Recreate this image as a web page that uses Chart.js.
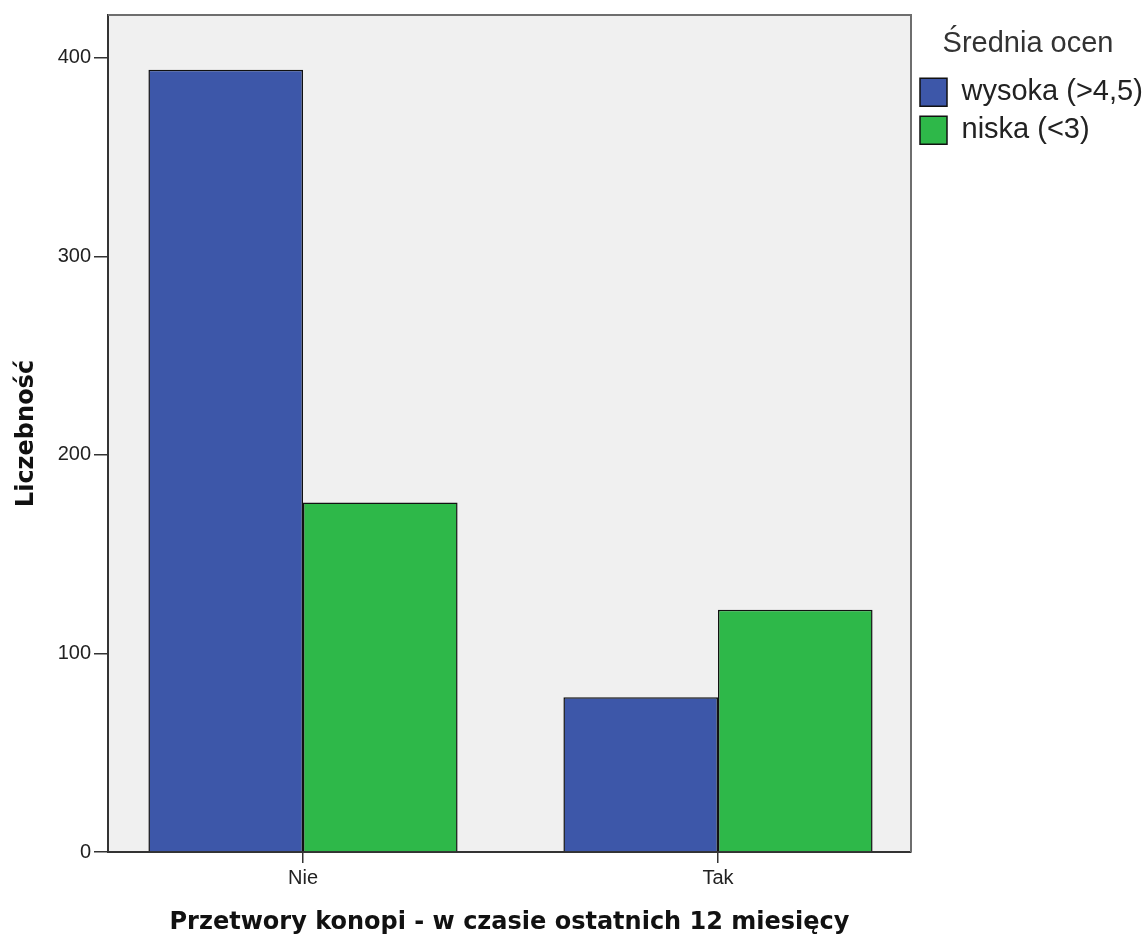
<!DOCTYPE html>
<html lang="pl">
<head>
<meta charset="UTF-8">
<title>Przetwory konopi - w czasie ostatnich 12 miesięcy</title>
<script src="https://cdn.jsdelivr.net/npm/chart.js"></script>
<style>
  html, body { margin: 0; padding: 0; background: #fff; }
  canvas { display: block; }
</style>
</head>
<body>
<canvas id="chart" width="1145" height="937"></canvas>
<script>
// dane
const categories = ['Nie', 'Tak'];
const seriesNames = ['wysoka (>4,5)', 'niska (<3)'];
const highValues = [394, 78];   // wysoka (>4,5)
const lowValues = [176, 122];   // niska (<3)
const yTicks = [0, 100, 200, 300, 400];

const blue = '#3d57a9';
const green = '#2eb849';

// tło i ramka obszaru wykresu
const plotFrame = {
  id: 'plotFrame',
  beforeDraw(chart) {
    const { ctx, chartArea: a } = chart;
    ctx.save();
    ctx.fillStyle = '#f0f0f0';
    ctx.fillRect(a.left, a.top, a.right - a.left, a.bottom - a.top);
    ctx.restore();
  },
  beforeDatasetsDraw(chart) {
    const { ctx, chartArea: a } = chart;
    ctx.save();
    ctx.strokeStyle = '#6e6e6e';
    ctx.lineWidth = 2;
    ctx.beginPath();
    ctx.moveTo(a.left, a.top);
    ctx.lineTo(a.right, a.top);
    ctx.lineTo(a.right, a.bottom);
    ctx.stroke();
    ctx.restore();
  }
};

const tickFont = { family: 'Liberation Sans, Arial, sans-serif', size: 20 };
const titleFont = { family: 'DejaVu Sans, sans-serif', size: 24, weight: 'bold' };

new Chart(document.getElementById('chart'), {
  type: 'bar',
  data: {
    datasets: [
      {
        label: seriesNames[0],
        data: highValues.map((v, i) => ({ x: i, y: v })),
        backgroundColor: blue,
        borderColor: '#111',
        borderWidth: 1.5
      },
      {
        label: seriesNames[1],
        data: lowValues.map((v, i) => ({ x: i, y: v })),
        backgroundColor: green,
        borderColor: '#111',
        borderWidth: 1.5
      }
    ]
  },
  options: {
    responsive: false,
    devicePixelRatio: 1,
    animation: false,
    layout: { padding: { top: 14, right: 0, bottom: 0, left: 0 } },
    datasets: {
      bar: { categoryPercentage: 0.745, barPercentage: 1 }
    },
    scales: {
      x: {
        type: 'linear',
        offset: false,
        min: -0.4699,
        max: 1.4651,
        afterBuildTicks(scale) {
          scale.ticks = categories.map((c, i) => ({ value: i }));
        },
        afterFit(scale) { scale.height = 85; },
        ticks: {
          stepSize: 1,
          includeBounds: false,
          padding: 3,
          color: '#222',
          font: tickFont,
          callback: (v) => categories[v] ?? ''
        },
        grid: {
          offset: false,
          drawOnChartArea: false,
          drawTicks: true,
          tickLength: 11,
          color: '#333',
          lineWidth: 1.5
        },
        border: { display: true, color: '#333', width: 2 },
        title: {
          display: true,
          text: 'Przetwory konopi - w czasie ostatnich 12 miesięcy',
          color: '#111',
          font: titleFont,
          padding: { top: 0, bottom: 0 }
        }
      },
      y: {
        min: 0,
        max: 421.6,
        afterBuildTicks(scale) {
          scale.ticks = yTicks.map(v => ({ value: v }));
        },
        afterFit(scale) { scale.width = 108; },
        ticks: {
          stepSize: 100,
          includeBounds: false,
          padding: 3,
          color: '#222',
          font: tickFont
        },
        grid: {
          drawOnChartArea: false,
          drawTicks: true,
          tickLength: 14,
          color: '#333',
          lineWidth: 1.5
        },
        border: { display: true, color: '#333', width: 2 },
        title: {
          display: true,
          text: 'Liczebność',
          color: '#111',
          font: titleFont,
          padding: { top: 12, bottom: 0 }
        }
      }
    },
    plugins: {
      tooltip: { enabled: false },
      legend: {
        position: 'right',
        align: 'start',
        maxWidth: 234,
        labels: {
          boxWidth: 27,
          boxHeight: 28,
          padding: 9,
          color: '#222',
          font: { family: 'Liberation Sans, Arial, sans-serif', size: 29 }
        },
        title: {
          display: true,
          text: 'Średnia ocen',
          color: '#333',
          font: { family: 'Liberation Sans, Arial, sans-serif', size: 29 },
          padding: { top: 15, bottom: 5 }
        }
      }
    }
  },
  plugins: [plotFrame]
});
</script>
</body>
</html>
